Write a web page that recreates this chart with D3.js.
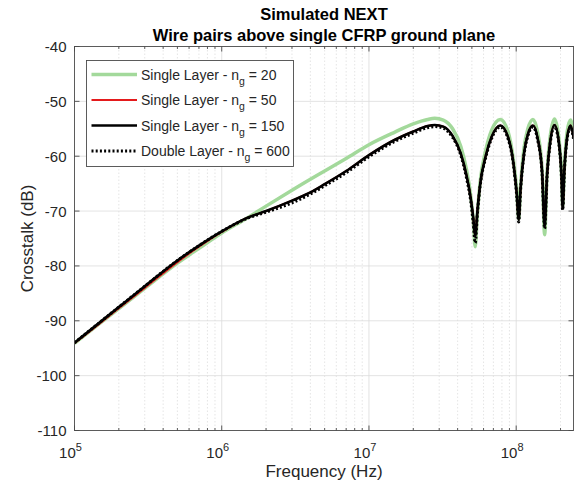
<!DOCTYPE html>
<html>
<head>
<meta charset="utf-8">
<script src="https://cdn.jsdelivr.net/npm/d3@7"></script>
<style>
  body { margin: 0; background: #fff; }
  svg { font-family: "Liberation Sans", Arial, sans-serif; }
</style>
</head>
<body>
<div id="chart"></div>
<script>
// frequency points (Hz) shared by all series
const freq = [1e5, 1.5e5, 2e5, 3e5, 5e5, 7e5, 1e6, 1.5e6, 2e6, 3e6, 4e6, 5e6, 7e6,
  1e7, 1.5e7, 2e7, 2.5e7, 2.8e7, 3.2e7, 3.7e7, 4.2e7, 4.6e7, 4.9e7, 5.1e7, 5.27e7,
  5.45e7, 5.7e7, 6.2e7, 6.8e7, 7.8e7, 8.8e7, 9.6e7, 1.01e8, 1.04e8, 1.07e8, 1.13e8,
  1.2e8, 1.3e8, 1.4e8, 1.5e8, 1.56e8, 1.62e8, 1.7e8, 1.82e8, 1.95e8, 2.03e8, 2.07e8,
  2.12e8, 2.22e8, 2.34e8, 2.45e8];

const single20 = [-94.1, -90.4, -87.8, -84.1, -79.5, -76.8, -74.0, -71.2, -69.1, -66.2, -64.2, -62.7, -60.4,
  -57.9, -55.6, -54.1, -53.3, -53.1, -53.4, -55.0, -58.2, -62.5, -67.0, -71.5, -76.5,
  -70.5, -64.5, -59.0, -55.3, -53.3, -55.5, -61.0, -66.5, -71.5, -65.5, -58.5,
  -55.0, -53.3, -55.8, -62.5, -74.3, -63.0, -56.5, -53.2, -56.8, -63.0, -69.0,
  -62.5, -55.5, -53.4, -55.8];

const single50 = [-94.1, -90.4, -87.7, -84.0, -79.3, -76.5, -73.8, -71.2, -70.0, -68.1, -66.6, -65.1, -62.7,
  -59.8, -57.0, -55.5, -54.5, -54.3, -54.6, -56.3, -59.5, -63.5, -67.5, -71.0, -74.6,
  -70.0, -65.0, -60.0, -56.5, -54.4, -56.5, -61.5, -67.0, -71.6, -66.0, -59.5,
  -56.0, -54.4, -56.8, -63.0, -72.8, -63.5, -57.5, -54.3, -57.5, -63.5, -69.5,
  -63.0, -56.5, -54.4, -56.5];

const single150 = [-94.0, -90.2, -87.5, -83.7, -79.0, -76.3, -73.7, -71.2, -70.0, -68.1, -66.6, -65.1, -62.7,
  -59.8, -57.0, -55.5, -54.5, -54.3, -54.6, -56.3, -59.5, -63.5, -67.5, -71.0, -74.6,
  -70.0, -65.0, -60.0, -56.5, -54.4, -56.5, -61.5, -67.0, -71.6, -66.0, -59.5,
  -56.0, -54.4, -56.8, -63.0, -72.8, -63.5, -57.5, -54.3, -57.5, -63.5, -69.5,
  -63.0, -56.5, -54.4, -56.5];

const double600 = [-94.0, -90.2, -87.5, -83.7, -79.0, -76.3, -73.7, -71.3, -70.2, -68.5, -66.9, -65.4, -63.0,
  -60.1, -57.3, -55.8, -54.8, -54.6, -54.9, -56.6, -59.8, -64.0, -68.0, -72.0, -75.8,
  -70.5, -65.3, -60.3, -56.8, -54.7, -56.8, -61.8, -67.5, -72.0, -66.3, -59.8,
  -56.3, -54.7, -57.1, -63.3, -73.2, -63.8, -57.8, -54.6, -57.8, -63.8, -69.8,
  -63.3, -56.8, -54.7, -56.8];

const yTicks = [-110, -100, -90, -80, -70, -60, -50, -40];
const xTicks = [1e5, 1e6, 1e7, 1e8];

const series = [
  { name: 'Single Layer - n', sub: 'g', tail: ' = 20', values: single20, color: '#a3d99b', width: 3.5, dash: null },
  { name: 'Single Layer - n', sub: 'g', tail: ' = 50', values: single50, color: '#e41a1c', width: 2, dash: null },
  { name: 'Single Layer - n', sub: 'g', tail: ' = 150', values: single150, color: '#000000', width: 2.6, dash: null },
  { name: 'Double Layer - n', sub: 'g', tail: ' = 600', values: double600, color: '#000000', width: 3, dash: '2,2.2' }
];

const W = 578, H = 486;
const mLeft = 74.5, mRight = 573.5, mTop = 46.5, mBottom = 430.5;
const axisColor = '#262626';

const svg = d3.select('#chart').append('svg')
  .attr('width', W)
  .attr('height', H);

const x = d3.scaleLog().domain([1e5, 2.45e8]).range([mLeft, mRight]);
const y = d3.scaleLinear().domain([-110, -40]).range([mBottom, mTop]);

// minor x positions
const minor = [];
for (let e = 5; e <= 8; e++) {
  for (let m = 2; m <= 9; m++) {
    const v = m * Math.pow(10, e);
    if (v < 2.45e8) minor.push(v);
  }
}

const grid = svg.append('g');
grid.selectAll('line.minor')
  .data(minor)
  .enter().append('line')
  .attr('x1', d => x(d)).attr('x2', d => x(d))
  .attr('y1', mTop).attr('y2', mBottom)
  .attr('stroke', '#d4d4d4')
  .attr('stroke-width', 0.6)
  .attr('stroke-dasharray', '1.5,2');
grid.selectAll('line.xmaj')
  .data(xTicks.slice(1))
  .enter().append('line')
  .attr('x1', d => x(d)).attr('x2', d => x(d))
  .attr('y1', mTop).attr('y2', mBottom)
  .attr('stroke', '#dcdcdc')
  .attr('stroke-width', 0.8);
grid.selectAll('line.ymaj')
  .data(yTicks.slice(1, -1))
  .enter().append('line')
  .attr('x1', mLeft).attr('x2', mRight)
  .attr('y1', d => y(d)).attr('y2', d => y(d))
  .attr('stroke', '#dcdcdc')
  .attr('stroke-width', 0.8);

// curves
svg.append('clipPath').attr('id', 'clip')
  .append('rect').attr('x', mLeft).attr('y', mTop)
  .attr('width', mRight - mLeft).attr('height', mBottom - mTop);

const line = d3.line()
  .x((d, i) => x(freq[i]))
  .y(d => y(d))
  .curve(d3.curveMonotoneX);

const plot = svg.append('g').attr('clip-path', 'url(#clip)');
series.forEach(s => {
  plot.append('path')
    .attr('d', line(s.values))
    .attr('fill', 'none')
    .attr('stroke', s.color)
    .attr('stroke-width', s.width)
    .attr('stroke-dasharray', s.dash)
    .attr('stroke-linejoin', 'round');
});

// axes box and ticks (inside, MATLAB style)
const ax = svg.append('g').attr('stroke', '#4a4a4a').attr('stroke-width', 0.9);
ax.append('rect')
  .attr('x', mLeft).attr('y', mTop)
  .attr('width', mRight - mLeft).attr('height', mBottom - mTop)
  .attr('fill', 'none');
yTicks.forEach(t => {
  ax.append('line').attr('x1', mLeft).attr('x2', mLeft + 5).attr('y1', y(t)).attr('y2', y(t));
  ax.append('line').attr('x1', mRight).attr('x2', mRight - 5).attr('y1', y(t)).attr('y2', y(t));
});
xTicks.forEach(t => {
  ax.append('line').attr('x1', x(t)).attr('x2', x(t)).attr('y1', mBottom).attr('y2', mBottom - 5);
  ax.append('line').attr('x1', x(t)).attr('x2', x(t)).attr('y1', mTop).attr('y2', mTop + 5);
});
minor.forEach(t => {
  ax.append('line').attr('x1', x(t)).attr('x2', x(t)).attr('y1', mBottom).attr('y2', mBottom - 2.5);
  ax.append('line').attr('x1', x(t)).attr('x2', x(t)).attr('y1', mTop).attr('y2', mTop + 2.5);
});

// tick labels
svg.selectAll('text.ytick')
  .data(yTicks)
  .enter().append('text')
  .attr('x', mLeft - 8)
  .attr('y', d => y(d) + 5.5)
  .attr('text-anchor', 'end')
  .attr('font-size', 15)
  .attr('fill', axisColor)
  .text(d => d);

xTicks.forEach(t => {
  const txt = svg.append('text')
    .attr('x', x(t) - 4)
    .attr('y', mBottom + 27)
    .attr('text-anchor', 'middle')
    .attr('font-size', 15)
    .attr('fill', axisColor);
  txt.append('tspan').text('10');
  txt.append('tspan').attr('dy', -7).attr('font-size', 11).text(Math.round(Math.log10(t)));
});

// axis labels
svg.append('text')
  .attr('x', (mLeft + mRight) / 2)
  .attr('y', 477)
  .attr('text-anchor', 'middle')
  .attr('font-size', 17)
  .attr('fill', axisColor)
  .text('Frequency (Hz)');
svg.append('text')
  .attr('transform', `translate(33,${(mTop + mBottom) / 2}) rotate(-90)`)
  .attr('text-anchor', 'middle')
  .attr('font-size', 17)
  .attr('fill', axisColor)
  .text('Crosstalk (dB)');

// title
const title = ['Simulated NEXT', 'Wire pairs above single CFRP ground plane'];
title.forEach((t, i) => {
  svg.append('text')
    .attr('x', (mLeft + mRight) / 2)
    .attr('y', 20 + i * 21)
    .attr('text-anchor', 'middle')
    .attr('font-size', 16.5)
    .attr('font-weight', 'bold')
    .attr('fill', '#000')
    .text(t);
});

// legend
const lg = svg.append('g');
lg.append('rect')
  .attr('x', 86.5).attr('y', 60.5)
  .attr('width', 207).attr('height', 106)
  .attr('fill', '#fff')
  .attr('stroke', '#4a4a4a')
  .attr('stroke-width', 0.9);
series.forEach((s, i) => {
  const ly = 74.5 + i * 25.5;
  lg.append('line')
    .attr('x1', 91.5).attr('x2', 137)
    .attr('y1', ly).attr('y2', ly)
    .attr('stroke', s.color)
    .attr('stroke-width', s.width)
    .attr('stroke-dasharray', s.dash);
  const txt = lg.append('text')
    .attr('x', 141)
    .attr('y', ly + 5)
    .attr('font-size', 14)
    .attr('fill', axisColor);
  txt.append('tspan').text(s.name);
  txt.append('tspan').attr('dy', 5).attr('font-size', 10.5).text(s.sub);
  txt.append('tspan').attr('dy', -5).text(s.tail);
});
</script>
</body>
</html>
